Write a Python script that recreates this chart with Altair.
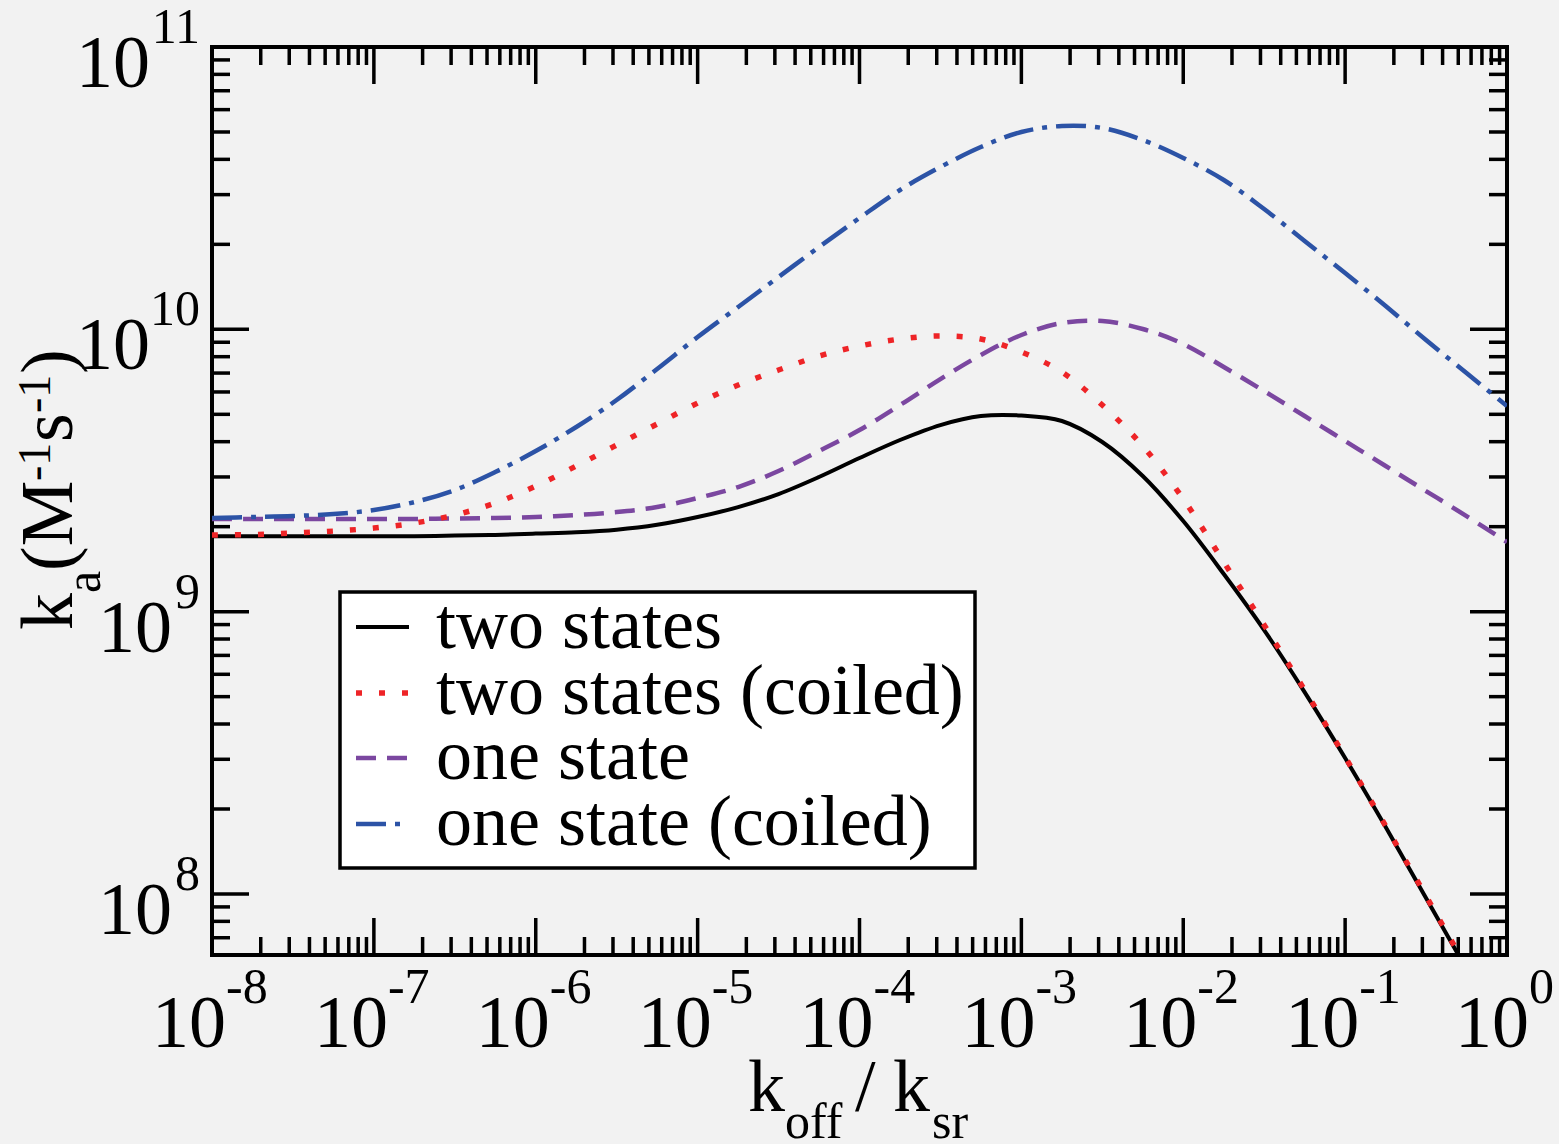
import altair as alt
import pandas as pd

# ---------------- data ----------------
koff = [1e-8, 1.78e-8, 3.16e-8, 5.62e-8,
        1e-7, 1.78e-7, 3.16e-7, 5.62e-7,
        1e-6, 1.78e-6, 3.16e-6, 5.62e-6,
        1e-5, 1.78e-5, 3.16e-5, 5.62e-5,
        1e-4, 1.78e-4, 3.16e-4, 5.62e-4,
        1e-3, 1.78e-3, 3.16e-3, 5.62e-3,
        1e-2, 1.78e-2, 3.16e-2, 5.62e-2,
        1e-1, 1.78e-1, 3.16e-1, 5.62e-1,
        1.0]

two_states = [1.85e9, 1.85e9, 1.85e9, 1.85e9, 1.85e9, 1.85e9, 1.86e9, 1.87e9,
              1.89e9, 1.91e9, 1.95e9, 2.03e9, 2.163e9, 2.347e9, 2.61e9, 2.999e9,
              3.501e9, 4.055e9, 4.581e9, 4.931e9, 4.952e9, 4.734e9, 3.989e9, 3.022e9,
              2.093e9, 1.359e9, 8.605e8, 5.19e8, 3.03e8, 1.726e8, 9.672e7, 5.42e7,
              3.037e7]

two_states_coiled = [1.87e9, 1.876e9, 1.898e9, 1.929e9, 1.977e9, 2.06e9, 2.199e9, 2.425e9,
                     2.785e9, 3.28e9, 3.892e9, 4.619e9, 5.481e9, 6.349e9, 7.176e9, 8.043e9,
                     8.727e9, 9.239e9, 9.47e9, 9.239e9, 8.31e9, 7.059e9, 5.392e9, 3.861e9,
                     2.506e9, 1.499e9, 8.964e8, 5.276e8, 3.055e8, 1.74e8, 9.83e7, 5.509e7,
                     3.087e7]

one_state = [2.13e9, 2.13e9, 2.13e9, 2.13e9, 2.13e9, 2.13e9, 2.137e9, 2.146e9,
             2.163e9, 2.199e9, 2.253e9, 2.347e9, 2.526e9, 2.763e9, 3.148e9, 3.706e9,
             4.398e9, 5.392e9, 6.666e9, 8.11e9, 9.546e9, 1.053e10, 1.07e10, 1.003e10,
             8.87e9, 7.354e9, 6.045e9, 4.931e9, 4.021e9, 3.28e9, 2.674e9, 2.181e9,
             1.764e9]

one_state_coiled = [2.146e9, 2.163e9, 2.181e9, 2.217e9, 2.29e9, 2.444e9, 2.696e9, 3.122e9,
                    3.706e9, 4.508e9, 5.618e9, 7.236e9, 9.391e9, 1.2e10, 1.532e10, 1.956e10,
                    2.48e10, 3.115e10, 3.757e10, 4.424e10, 5.0e10, 5.25e10, 5.166e10, 4.683e10,
                    4.044e10, 3.38e10, 2.668e10, 2.055e10, 1.582e10, 1.209e10, 9.165e9, 7.002e9,
                    5.349e9]

series_names = ["two states", "two states (coiled)", "one state", "one state (coiled)"]

x_major = [1e-8, 1e-7, 1e-6, 1e-5, 1e-4, 1e-3, 1e-2, 1e-1, 1.0]
x_exps = ["-8", "-7", "-6", "-5", "-4", "-3", "-2", "-1", "0"]
x_minor = [m * d for d in [1e-8, 1e-7, 1e-6, 1e-5, 1e-4, 1e-3, 1e-2, 1e-1] for m in range(2, 10)]

y_major = [1e8, 1e9, 1e10, 1e11]
y_exps = ["8", "9", "10", "11"]
y_minor = [m * d for d in [1e7, 1e8, 1e9, 1e10] for m in range(2, 10) if m * d > 6.1e7]

# ---------------- layout ----------------
W, H = 1295, 908
FONT = "Liberation Serif"
xs = alt.Scale(type="log", domain=[1e-8, 1.0], nice=False)
ys = alt.Scale(type="log", domain=[6.08e7, 1e11], nice=False)

layers = []

# ticks (inward, all four sides)
def xtick_layer(vals, length, top):
    df = pd.DataFrame({"v": vals})
    y0, y1 = (0, length) if top else (H, H - length)
    return alt.Chart(df).mark_rule(color="black", strokeWidth=3.5).encode(
        x=alt.X("v:Q", scale=xs, axis=None), y=alt.value(y0), y2=alt.value(y1))

def ytick_layer(vals, length, right):
    df = pd.DataFrame({"v": vals})
    x0, x1 = (W, W - length) if right else (0, length)
    return alt.Chart(df).mark_rule(color="black", strokeWidth=3.5).encode(
        y=alt.Y("v:Q", scale=ys, axis=None), x=alt.value(x0), x2=alt.value(x1))

for top in (False, True):
    layers.append(xtick_layer(x_major, 37, top))
    layers.append(xtick_layer(x_minor, 18, top))
for right in (False, True):
    layers.append(ytick_layer(y_major, 37, right))
    layers.append(ytick_layer(y_minor, 18, right))

# series
styles = [
    ("black", None, 4.0, "butt"),
    ("#ee2427", [6, 17], 5.5, "butt"),
    ("#7b47a0", [20, 11], 4.5, "butt"),
    ("#2c53a6", [30, 9, 5, 9], 4.5, "butt"),
]
values = [two_states, two_states_coiled, one_state, one_state_coiled]
draw_order = [2, 3, 0, 1]
for i in draw_order:
    color, dash, width, cap = styles[i]
    df = pd.DataFrame({"koff": koff, "ka": values[i]})
    kw = dict(color=color, strokeWidth=width, clip=True, interpolate="catmull-rom", strokeCap=cap)
    if dash:
        kw["strokeDash"] = dash
    layers.append(alt.Chart(df).mark_line(**kw).encode(
        x=alt.X("koff:Q", scale=xs, axis=None),
        y=alt.Y("ka:Q", scale=ys, axis=None)))

# legend
box = pd.DataFrame({"a": [0]})
layers.append(alt.Chart(box).mark_rect(fill="white", stroke="black", strokeWidth=3.5).encode(
    x=alt.value(128), x2=alt.value(763), y=alt.value(545), y2=alt.value(821)))
row_y = [580, 646, 711, 777]
for i, name in enumerate(series_names):
    color, dash, width, cap = styles[i]
    kw = dict(color=color, strokeWidth=width, strokeCap=cap)
    if dash:
        kw["strokeDash"] = dash
    d = pd.DataFrame({"label": [name]})
    layers.append(alt.Chart(d).mark_rule(**kw).encode(
        x=alt.value(144), x2=alt.value(197), y=alt.value(row_y[i])))
    layers.append(alt.Chart(d).mark_text(font=FONT, fontSize=72, align="left",
                                         baseline="alphabetic", color="black").encode(
        x=alt.value(224), y=alt.value(row_y[i] + 21), text="label:N"))

# x tick labels
xl = pd.DataFrame({"v": x_major, "base": ["10"] * len(x_major), "exp": x_exps})
xl_neg = xl[xl["exp"] != "0"]
xl_zero = xl[xl["exp"] == "0"]
for sub, dx_b, dx_e in ((xl_neg, 14, 14), (xl_zero, 22, 22)):
    layers.append(alt.Chart(sub).mark_text(font=FONT, fontSize=74, align="right",
                                           baseline="alphabetic", dx=dx_b, color="black").encode(
        x=alt.X("v:Q", scale=xs, axis=None), y=alt.value(H + 92), text="base:N"))
    layers.append(alt.Chart(sub).mark_text(font=FONT, fontSize=50, align="left",
                                           baseline="alphabetic", dx=dx_e, color="black").encode(
        x=alt.X("v:Q", scale=xs, axis=None), y=alt.value(H + 48), text="exp:N"))

# y tick labels
yl = pd.DataFrame({"v": y_major, "base": ["10"] * len(y_major), "exp": y_exps})
yl_two = yl[yl["exp"].str.len() == 2]
yl_one = yl[yl["exp"].str.len() == 1]
for sub, xb in ((yl_two, -62), (yl_one, -40)):
    layers.append(alt.Chart(sub).mark_text(font=FONT, fontSize=74, align="right",
                                           baseline="alphabetic", dy=40, color="black").encode(
        y=alt.Y("v:Q", scale=ys, axis=None), x=alt.value(xb), text="base:N"))
    layers.append(alt.Chart(sub).mark_text(font=FONT, fontSize=50, align="right",
                                           baseline="alphabetic", dy=-4, color="black").encode(
        y=alt.Y("v:Q", scale=ys, axis=None), x=alt.value(-12), text="exp:N"))

# x title: k_off / k_sr
x_title_parts = [("k", 74, 536, H + 156), ("off", 50, 573, H + 183), ("/", 74, 643, H + 156),
                 ("k", 74, 681, H + 156), ("sr", 50, 720, H + 183)]
for t, fs, px, py in x_title_parts:
    d = pd.DataFrame({"t": [t]})
    layers.append(alt.Chart(d).mark_text(font=FONT, fontSize=fs, align="left",
                                         baseline="alphabetic", color="black").encode(
        x=alt.value(px), y=alt.value(py), text="t:N"))

# y title: k_a (M^-1 s^-1), rotated
y_title_parts = [("k", 74, -140, 583), ("a", 50, -112, 546), ("(M", 74, -140, 524),
                 ("-1", 46, -162, 434), ("s", 74, -140, 395), ("-1", 46, -162, 366),
                 (")", 74, -140, 327)]
for t, fs, px, py in y_title_parts:
    d = pd.DataFrame({"t": [t]})
    layers.append(alt.Chart(d).mark_text(font=FONT, fontSize=fs, align="left", angle=270,
                                         baseline="alphabetic", color="black").encode(
        x=alt.value(px), y=alt.value(py), text="t:N"))

chart = alt.layer(*layers).properties(
    width=W, height=H,
    autosize=alt.AutoSizeParams(type="none"),
    padding={"left": 212, "top": 47, "right": 52, "bottom": 189},
    background="#f2f2f2",
).configure_view(stroke="black", strokeWidth=4)

chart.save("out.html", embed_options={"renderer": "svg", "actions": False})
